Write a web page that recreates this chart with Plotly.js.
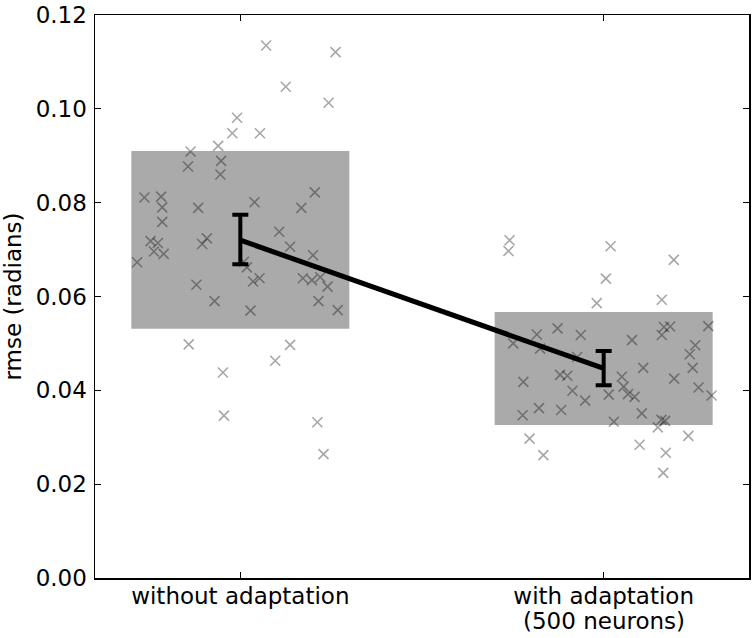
<!DOCTYPE html>
<html>
<head>
<meta charset="utf-8">
<script src="https://cdn.plot.ly/plotly-3.0.1.min.js"></script>
<style>html,body{margin:0;padding:0;background:#fff;}#chart{width:756px;height:638px;}</style>
</head>
<body>
<div id="chart"></div>
<script>
// Categories and tick labels
const categories = [0, 1];
const categoryLabels = ["without adaptation", "with adaptation"];
const categorySubLabels = ["", "(500 neurons)"];

// Summary values per condition
const meanRmse = [0.0720, 0.0447];
const ciUpper = [0.0774, 0.0484];
const ciLower = [0.0669, 0.0411];
const boxLow = [0.0531, 0.0326];
const boxHigh = [0.0910, 0.0567];

// Individual trials: without adaptation (jittered x position, rmse)
const jitterWithout = [0.071,0.262,0.125,0.243,-0.009,-0.022,0.054,-0.061,-0.137,-0.144,-0.053,-0.055,-0.264,-0.218,-0.215,-0.116,-0.215,0.039,0.205,0.168,0.107,-0.247,-0.227,-0.092,-0.105,0.137,-0.238,-0.211,-0.284,0.200,0.018,0.035,0.053,-0.121,0.172,0.197,0.220,0.240,-0.071,0.215,0.028,0.268,-0.142,0.137,0.096,-0.048,-0.045,0.212,0.229,0.010];
const rmseWithout = [0.1135,0.1121,0.1047,0.1013,0.0981,0.0948,0.0948,0.0921,0.0909,0.0877,0.0889,0.0860,0.0811,0.0813,0.0790,0.0789,0.0759,0.0801,0.0822,0.0789,0.0738,0.0718,0.0714,0.0724,0.0712,0.0706,0.0696,0.0691,0.0673,0.0688,0.0662,0.0632,0.0639,0.0625,0.0639,0.0635,0.0641,0.0621,0.0590,0.0590,0.0570,0.0571,0.0498,0.0497,0.0463,0.0438,0.0346,0.0332,0.0264,0.0674];

// Individual trials: with adaptation (500 neurons)
const jitterWith = [0.741,0.738,1.019,1.193,1.006,0.981,1.160,0.751,0.816,0.873,0.937,0.825,1.078,1.160,1.166,1.183,1.288,1.252,1.237,1.245,1.109,1.194,1.261,1.297,0.779,0.880,0.900,0.914,0.949,1.014,1.050,1.055,1.067,1.085,0.822,0.883,0.777,1.105,1.028,1.149,1.159,1.169,0.796,0.834,1.099,1.171,1.233,1.164,0.927];
const rmseWith = [0.0720,0.0697,0.0707,0.0678,0.0638,0.0586,0.0593,0.0500,0.0519,0.0532,0.0518,0.0489,0.0507,0.0518,0.0535,0.0536,0.0537,0.0496,0.0477,0.0448,0.0448,0.0425,0.0406,0.0389,0.0418,0.0433,0.0431,0.0399,0.0378,0.0391,0.0429,0.0408,0.0392,0.0386,0.0362,0.0358,0.0347,0.0351,0.0333,0.0321,0.0337,0.0335,0.0297,0.0262,0.0284,0.0267,0.0303,0.0224,0.0471];

const yTicks = [0, 0.02, 0.04, 0.06, 0.08, 0.10, 0.12];

const FONT = "DejaVu Sans, Liberation Sans, sans-serif";
const markerStyle = {
  symbol: "x-thin-open",
  size: 10,
  color: "rgba(0,0,0,0.35)",
  line: {color: "rgba(0,0,0,0.35)", width: 1.6}
};

const traces = [
  {
    type: "bar",
    x: categories,
    base: boxLow,
    y: boxHigh.map((h, i) => h - boxLow[i]),
    width: 0.6,
    marker: {color: "#aaaaaa", line: {width: 0}},
    hoverinfo: "skip",
    showlegend: false
  },
  {
    type: "scatter",
    mode: "markers",
    x: jitterWithout,
    y: rmseWithout,
    marker: markerStyle,
    showlegend: false
  },
  {
    type: "scatter",
    mode: "markers",
    x: jitterWith,
    y: rmseWith,
    marker: markerStyle,
    showlegend: false
  },
  {
    type: "scatter",
    mode: "lines",
    x: categories,
    y: meanRmse,
    line: {color: "#000", width: 5},
    error_y: {
      type: "data",
      symmetric: false,
      array: ciUpper.map((u, i) => u - meanRmse[i]),
      arrayminus: ciLower.map((l, i) => meanRmse[i] - l),
      color: "#000",
      thickness: 4,
      width: 8
    },
    showlegend: false
  }
];

const axisCommon = {
  showline: true,
  linecolor: "#000",
  linewidth: 1.5,
  mirror: "ticks",
  ticks: "inside",
  ticklen: 6,
  tickwidth: 1,
  tickcolor: "#000",
  showgrid: false,
  zeroline: false,
  tickfont: {family: FONT, size: 23, color: "#000"}
};

const layout = {
  width: 756,
  height: 638,
  margin: {l: 95, r: 7, t: 15, b: 60},
  paper_bgcolor: "#fff",
  plot_bgcolor: "#fff",
  font: {family: FONT, color: "#000"},
  showlegend: false,
  xaxis: Object.assign({}, axisCommon, {
    range: [-0.4, 1.4],
    tickmode: "array",
    tickvals: categories,
    ticktext: categoryLabels,
    ticklabelstandoff: -3
  }),
  yaxis: Object.assign({}, axisCommon, {
    range: [0, 0.12],
    tickmode: "array",
    tickvals: yTicks,
    ticktext: yTicks.map(v => v.toFixed(2)),
    ticklabelstandoff: 2,
    title: {text: "rmse (radians)", font: {family: FONT, size: 23, color: "#000"}, standoff: 10}
  }),
  annotations: categories.filter((c, i) => categorySubLabels[i]).map(c => ({
    x: c,
    xref: "x",
    y: 621,
    yref: "paper",
    text: categorySubLabels[categories.indexOf(c)],
    showarrow: false,
    xanchor: "center",
    yanchor: "middle",
    font: {family: FONT, size: 23, color: "#000"}
  }))
};
// place sub-label in pixel terms: convert 621px from top to paper fraction
layout.annotations.forEach(a => {
  const plotH = layout.height - layout.margin.t - layout.margin.b;
  a.y = (layout.height - layout.margin.b - 621) / plotH;
});

Plotly.newPlot("chart", traces, layout, {staticPlot: true, displayModeBar: false});
</script>
</body>
</html>
